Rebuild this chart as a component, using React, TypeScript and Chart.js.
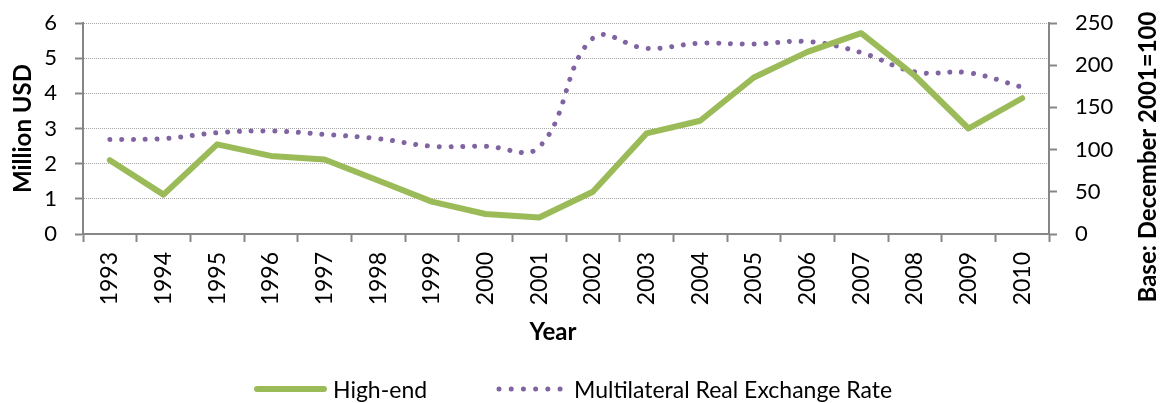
import React, { useEffect, useRef } from "react";
import { Chart, registerables } from "chart.js";

Chart.register(...registerables);

const years = ["1993","1994","1995","1996","1997","1998","1999","2000","2001","2002","2003","2004","2005","2006","2007","2008","2009","2010"];
const highEnd = [2.1, 1.12, 2.55, 2.22, 2.12, 1.52, 0.92, 0.57, 0.47, 1.2, 2.86, 3.22, 4.45, 5.18, 5.71, 4.5, 3.0, 3.86];
const exchangeRate = [112, 113, 120, 122, 118, 113, 104, 104, 103, 232, 220, 226, 225, 228, 215, 192, 191, 174];
const leftTicks = [0, 1, 2, 3, 4, 5, 6];
const rightTicks = [0, 50, 100, 150, 200, 250];

const GREEN = "#9BBB59";
const PURPLE = "#8064A2";
const AXIS = "#868686";
const GRID = "#a6a6a6";
const FONT = "Lato";

const overlayPlugin = {
  id: "overlay",
  afterDraw(chart: any) {
    const ctx = chart.ctx;
    ctx.save();
    ctx.fillStyle = "#000";
    // x axis title
    ctx.font = `bold 24px ${FONT}`;
    ctx.textAlign = "center";
    ctx.textBaseline = "alphabetic";
    ctx.fillText("Year", 553, 340);
    // right axis title
    ctx.textBaseline = "middle";
    ctx.translate(1148, 157);
    ctx.rotate(-Math.PI / 2);
    ctx.fillText("Base: December 2001=100", 0, 0);
    ctx.restore();

    // legend
    ctx.save();
    const ly = 389;
    ctx.lineCap = "round";
    ctx.strokeStyle = GREEN;
    ctx.lineWidth = 6;
    ctx.beginPath();
    ctx.moveTo(257, ly);
    ctx.lineTo(324, ly);
    ctx.stroke();
    ctx.strokeStyle = PURPLE;
    ctx.lineWidth = 5;
    ctx.setLineDash([0.01, 12.2]);
    ctx.beginPath();
    ctx.moveTo(499, ly);
    ctx.lineTo(561, ly);
    ctx.stroke();
    ctx.setLineDash([]);
    ctx.font = `23px ${FONT}`;
    ctx.fillStyle = "#000";
    ctx.textAlign = "left";
    ctx.textBaseline = "alphabetic";
    ctx.fillText("High-end", 333, 398);
    ctx.fillText("Multilateral Real Exchange Rate", 574, 398);
    ctx.restore();
  },
};

export default function App() {
  const ref = useRef<HTMLCanvasElement>(null);
  useEffect(() => {
    if (!ref.current) return;
    Chart.defaults.font.family = FONT;
    const chart = new Chart(ref.current, {
      type: "line",
      data: {
        labels: years,
        datasets: [
          {
            label: "High-end",
            data: highEnd,
            borderColor: GREEN,
            backgroundColor: GREEN,
            borderWidth: 6,
            pointRadius: 0,
            tension: 0,
            borderJoinStyle: "round",
            borderCapStyle: "round",
            yAxisID: "y",
          },
          {
            label: "Multilateral Real Exchange Rate",
            data: exchangeRate,
            borderColor: PURPLE,
            backgroundColor: PURPLE,
            borderWidth: 5,
            borderDash: [0.01, 11.8],
            borderCapStyle: "round",
            pointRadius: 0,
            tension: 0.4,
            yAxisID: "y1",
          },
        ],
      },
      options: {
        animation: false,
        responsive: true,
        maintainAspectRatio: false,
        layout: { padding: { top: 23, left: 0, right: 0, bottom: 0 } },
        plugins: { legend: { display: false }, tooltip: { enabled: false } },
        scales: {
          x: {
            offset: true,
            afterFit: (s: any) => { s.height = 169; },
            grid: {
              offset: true,
              drawOnChartArea: false,
              tickLength: 8,
              tickColor: AXIS,
              tickWidth: 2,
            },
            border: { color: AXIS, width: 2 },
            ticks: {
              minRotation: 90,
              maxRotation: 90,
              autoSkip: false,
              padding: 10,
              color: "#000",
              font: { size: 23, family: FONT },
            },
          },
          y: {
            position: "left",
            min: 0,
            max: 6,
            afterFit: (s: any) => { s.width = 83; s.paddingTop = 8; s.paddingBottom = 8; },
            afterBuildTicks: (s: any) => { s.ticks = leftTicks.map((v) => ({ value: v })); },
            grid: {
              color: GRID,
              lineWidth: 1,
              tickLength: 8,
              tickColor: AXIS,
              tickWidth: 2,
              tickBorderDash: [],
            },
            border: { color: AXIS, width: 2, dash: [1, 1] },
            ticks: {
              padding: 18,
              color: "#000",
              font: { size: 22, family: FONT },
            },
            title: {
              display: true,
              text: "Million USD",
              color: "#000",
              font: { size: 24, weight: "bold", family: FONT },
              padding: { top: 9, bottom: 0 },
            },
          },
          y1: {
            position: "right",
            min: 0,
            max: 250,
            afterFit: (s: any) => { s.width = 112; s.paddingTop = 8; s.paddingBottom = 8; },
            afterBuildTicks: (s: any) => { s.ticks = rightTicks.map((v) => ({ value: v })); },
            grid: {
              drawOnChartArea: false,
              tickLength: 8,
              tickColor: AXIS,
              tickWidth: 2,
            },
            border: { color: AXIS, width: 2 },
            ticks: {
              padding: 18,
              color: "#000",
              font: { size: 22, family: FONT },
            },
          },
        },
      },
      plugins: [overlayPlugin],
    });
    return () => chart.destroy();
  }, []);
  return (
    <div style={{ position: "absolute", left: 0, top: 0, width: 1161, height: 403 }}>
      <canvas ref={ref} />
    </div>
  );
}
